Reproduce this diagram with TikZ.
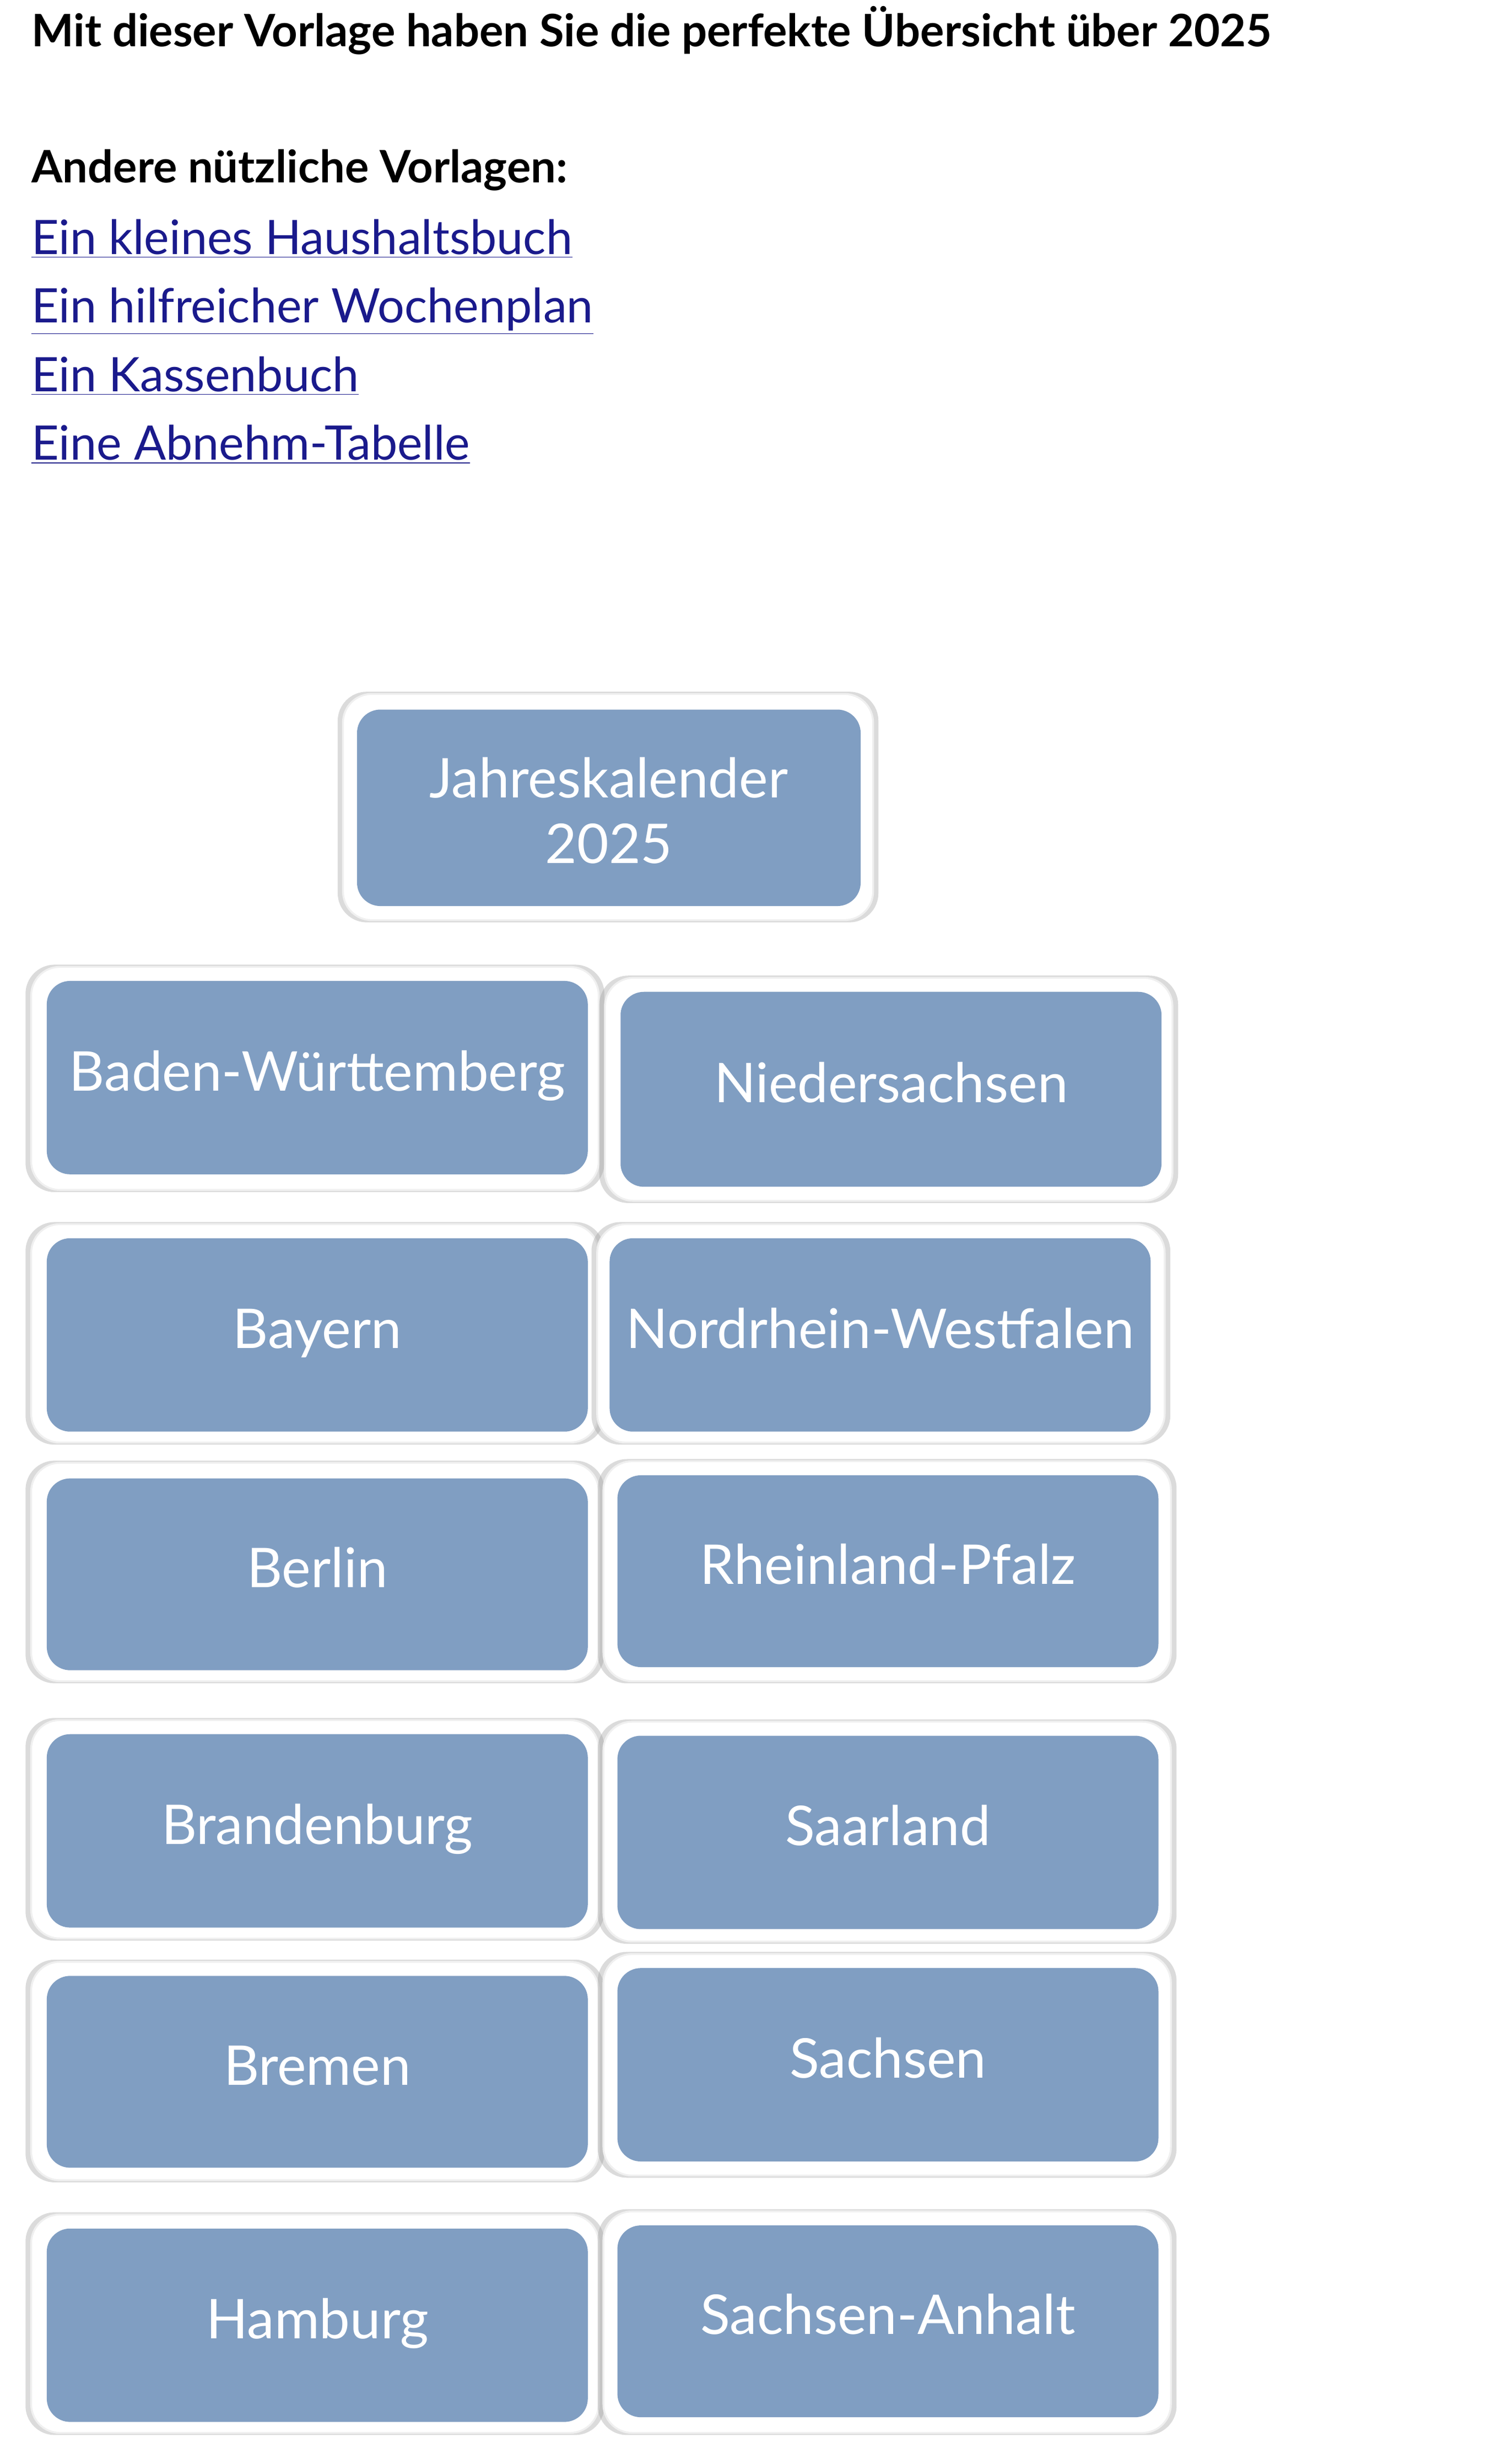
\documentclass[tikz,border=0pt]{standalone}
\usepackage{fontspec}
\setmainfont{Lato}
\usetikzlibrary{shadows}
\definecolor{tileblue}{HTML}{809EC2}
\definecolor{linkblue}{HTML}{1A1A8C}
\tikzset{
  x=0.03cm,y=-0.03cm,
  outerbox/.style={fill=white,rounded corners=0.55cm,draw=black!6,line width=1pt,
    drop shadow={shadow xshift=0pt,shadow yshift=0pt,opacity=0.35,fill=black!40,shadow scale=1.02}},
  innerbox/.style={fill=tileblue,rounded corners=0.45cm,draw=none,text=white,
    font=\fontsize{30}{36}\selectfont,align=center,inner sep=0pt},
  linktext/.style={anchor=base west,inner sep=0pt,text=linkblue,font=\fontsize{26}{30}\selectfont},
}
\newcommand{\tile}[9]{%
  \path[outerbox] (#2,#3) rectangle (#4,#5);
  \node[innerbox,minimum width={(#8-#6)*0.03cm},minimum height={(#9-#7)*0.03cm}]
    (#1) at ({(#6+#8)/2},{(#7+#9)/2}) {\strut\tileText};}
\begin{document}
\begin{tikzpicture}
\useasboundingbox (0,0) rectangle (960,1580);
\node[anchor=base west,inner sep=0pt,font=\bfseries\fontsize{24.5}{30}\selectfont] (title) at (20,30) {Mit dieser Vorlage haben Sie die perfekte Übersicht über 2025};
\node[anchor=base west,inner sep=0pt,font=\bfseries\fontsize{24.5}{30}\selectfont] (andere) at (20,117) {Andere nützliche Vorlagen:};
\node[linktext] (l1) at (20,163) {\underline{Ein kleines Haushaltsbuch}};
\node[linktext] (l2) at (20,207) {\underline{Ein hilfreicher Wochenplan}};
\node[linktext] (l3) at (20,251) {\underline{Ein Kassenbuch}};
\node[linktext] (l4) at (20,295) {\underline{Eine Abnehm-Tabelle}};
\def\tileText{Jahreskalender\\2025}\tile{jk}{220}{445}{560}{590}{229}{455}{552}{581}
\def\tileText{Baden-Württemberg}\tile{bw}{20}{620}{384}{763}{30}{629}{377}{753}
\def\tileText{Bayern}\tile{by}{20}{785}{384}{925}{30}{794}{377}{918}
\def\tileText{Berlin}\tile{be}{20}{938}{384}{1078}{30}{948}{377}{1071}
\def\tileText{Brandenburg}\tile{bb}{20}{1103}{384}{1243}{30}{1112}{377}{1236}
\def\tileText{Bremen}\tile{hb}{20}{1258}{384}{1398}{30}{1267}{377}{1390}
\def\tileText{Hamburg}\tile{hh}{20}{1420}{384}{1560}{30}{1429}{377}{1553}
\def\tileText{Niedersachsen}\tile{ni}{388}{627}{752}{770}{398}{636}{745}{761}
\def\tileText{Nordrhein-Westfalen}\tile{nw}{383}{785}{747}{925}{391}{794}{738}{918}
\def\tileText{Rheinland-Pfalz}\tile{rp}{387}{937}{751}{1078}{396}{946}{743}{1069}
\def\tileText{Saarland}\tile{sl}{387}{1104}{751}{1245}{396}{1113}{743}{1237}
\def\tileText{Sachsen}\tile{sn}{387}{1253}{751}{1395}{396}{1262}{743}{1386}
\def\tileText{Sachsen-Anhalt}\tile{st}{387}{1418}{751}{1560}{396}{1427}{743}{1550}
\end{tikzpicture}
\end{document}
